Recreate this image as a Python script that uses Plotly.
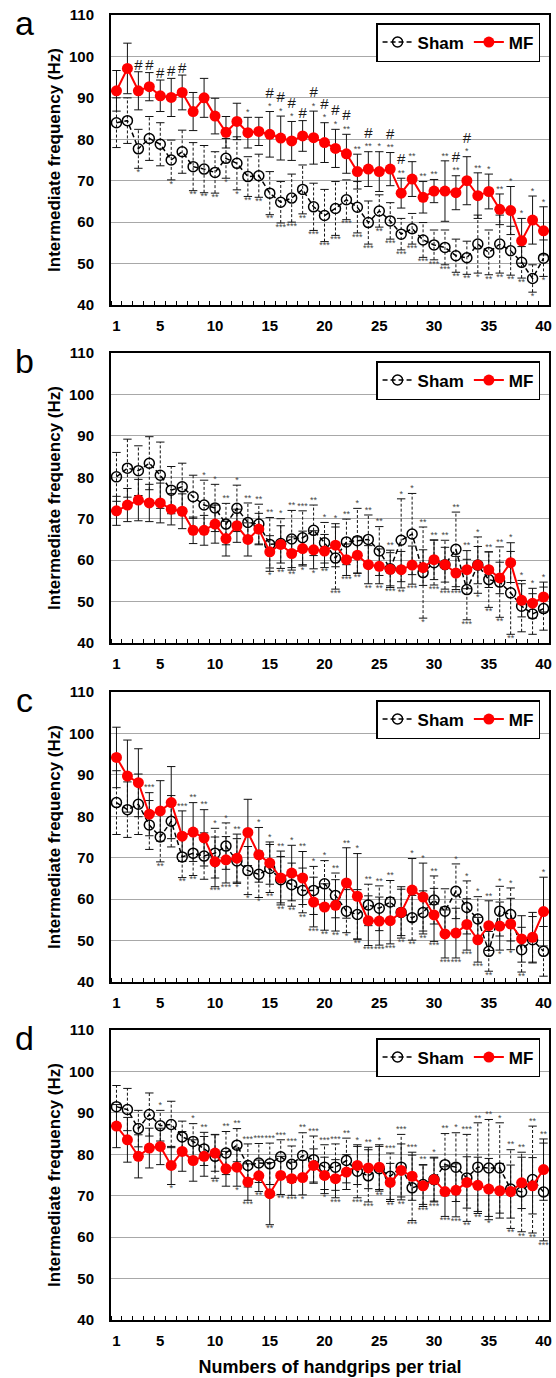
import plotly.graph_objects as go

# ---------------- data ----------------
x_vals = list(range(1, 41))
x_ticks = [1, 5, 10, 15, 20, 25, 30, 35, 40]
y_ticks = [40, 50, 60, 70, 80, 90, 100, 110]
panel_labels = ["a", "b", "c", "d"]
y_title = "Intermediate frequency (Hz)"
x_title = "Numbers of handgrips per trial"

a_sham = [84.0, 84.5, 77.7, 80.2, 78.8, 75.0, 77.0, 73.4, 72.8, 72.0,
          75.4, 74.2, 71.0, 71.2, 67.0, 64.8, 65.8, 67.9, 63.7, 61.6,
          63.3, 65.4, 63.6, 59.9, 62.7, 60.3, 57.1, 58.4, 55.7, 54.5,
          53.9, 51.9, 51.4, 54.7, 52.7, 54.7, 53.1, 50.3, 46.4, 51.3]
a_sham_err = [6.0, 5.5, 4.7, 5.3, 5.2, 4.8, 5.2, 5.8, 5.7, 5.0,
              4.8, 6.4, 4.8, 5.2, 5.2, 5.0, 5.8, 5.9, 5.7, 6.3,
              6.5, 4.8, 6.2, 5.2, 3.9, 4.4, 3.8, 3.7, 4.2, 3.6,
              4.2, 4.0, 4.0, 7.0, 5.4, 7.0, 5.9, 3.8, 3.3, 4.4]
a_mf = [91.7, 97.1, 91.7, 92.7, 90.5, 90.1, 91.3, 86.7, 90.0, 85.6,
        81.7, 84.3, 81.6, 81.9, 81.2, 80.3, 79.6, 80.8, 80.4, 79.2,
        77.8, 76.5, 72.2, 72.8, 72.2, 72.8, 67.0, 70.4, 66.0, 67.5,
        67.5, 67.1, 70.0, 66.4, 67.4, 63.1, 62.8, 55.5, 60.5, 57.9]
a_mf_err = [4.9, 6.1, 4.6, 3.4, 3.8, 4.6, 4.2, 4.6, 4.7, 4.3,
            3.8, 4.4, 3.7, 3.4, 5.5, 5.3, 4.7, 3.7, 6.4, 4.8,
            4.6, 4.7, 4.2, 4.2, 4.8, 4.0, 3.6, 4.2, 3.8, 2.8,
            7.3, 4.1, 5.8, 5.5, 4.2, 3.7, 5.8, 5.4, 5.8, 5.8]
a_top = ["", "", "", "", "", "", "", "", "", "",
         "", "", "*", "", "*", "*", "*", "", "*", "*",
         "*", "**", "**", "**", "*", "**", "**", "**", "**", "**",
         "**", "**", "*", "**", "*", "**", "*", "*", "*", "*"]
a_bot = ["", "", "*", "", "", "*", "", "**", "**", "**",
         "*", "*", "**", "**", "**", "***", "***", "**", "***", "***",
         "***", "***", "***", "***", "**", "***", "***", "***", "***", "***",
         "***", "**", "**", "*", "**", "**", "**", "**", "*", "*"]
a_hash = ["", "", "#", "#", "#", "#", "#", "", "", "",
          "", "", "", "", "#", "#", "#", "#", "#", "#",
          "#", "#", "", "#", "", "#", "#", "", "", "",
          "", "#", "#", "", "", "", "", "", "", ""]

b_sham = [80.1, 82.2, 81.6, 83.4, 80.5, 76.9, 77.7, 75.3, 73.3, 72.6,
          68.7, 72.5, 69.1, 68.7, 63.8, 64.0, 65.1, 65.4, 67.2, 64.2,
          60.5, 64.4, 64.7, 65.0, 62.2, 57.9, 64.8, 66.3, 57.0, 59.4,
          58.9, 62.6, 52.9, 58.8, 55.3, 54.7, 52.1, 48.9, 47.0, 48.3]
b_sham_err = [5.9, 7.0, 6.0, 6.4, 8.0, 5.7, 5.7, 5.2, 6.0, 5.7,
              5.0, 5.6, 4.7, 4.8, 6.5, 6.0, 6.9, 6.5, 6.1, 4.9,
              7.5, 5.5, 7.8, 5.9, 5.9, 4.5, 10.0, 9.8, 11.0, 5.4,
              5.9, 9.0, 7.3, 6.8, 6.7, 8.5, 10.0, 6.2, 4.9, 5.2]
b_mf = [71.9, 73.3, 74.5, 73.8, 73.8, 72.3, 71.8, 67.2, 67.2, 68.7,
        65.2, 68.3, 65.0, 67.5, 62.0, 63.8, 61.6, 62.8, 62.5, 62.2,
        63.6, 60.1, 61.2, 58.9, 58.5, 57.8, 57.7, 58.8, 58.2, 60.1,
        58.9, 56.9, 57.7, 58.8, 57.7, 55.7, 59.4, 50.3, 49.6, 51.1]
b_mf_err = [3.5, 4.0, 5.0, 4.5, 4.8, 3.8, 4.2, 3.2, 3.6, 4.6,
            4.2, 4.0, 4.0, 3.8, 3.9, 4.5, 4.0, 4.2, 4.6, 4.0,
            5.2, 3.8, 4.4, 4.6, 4.2, 4.0, 4.4, 4.6, 4.3, 4.8,
            4.2, 4.0, 4.6, 4.5, 4.3, 3.8, 4.8, 4.0, 3.6, 3.6]
b_top = ["", "", "", "", "", "", "", "", "*", "*",
         "**", "*", "**", "**", "**", "*", "**", "***", "**", "*",
         "*", "**", "*", "**", "**", "**", "*", "*", "**", "**",
         "**", "**", "**", "*", "**", "**", "*", "*", "*", "*"]
b_bot = ["", "", "", "", "", "", "", "", "", "",
         "", "", "", "", "*", "**", "**", "*", "*", "**",
         "***", "***", "**", "**", "**", "***", "**", "***", "*", "***",
         "***", "***", "***", "*", "**", "**", "**", "", "", ""]

c_sham = [83.3, 81.6, 82.9, 77.9, 75.0, 78.8, 70.2, 71.1, 70.4, 71.1,
          72.8, 69.2, 66.9, 66.0, 67.4, 64.7, 63.5, 62.1, 62.1, 63.7,
          60.9, 57.1, 56.3, 58.6, 57.8, 59.3, 56.8, 55.5, 56.8, 59.8,
          57.1, 61.9, 58.0, 55.2, 47.4, 57.1, 56.3, 47.8, 50.2, 47.4]
c_sham_err = [7.7, 6.7, 7.3, 5.9, 6.0, 6.2, 5.0, 5.4, 5.6, 6.0,
              5.6, 5.4, 5.8, 5.6, 5.8, 5.6, 5.2, 5.4, 5.8, 5.6,
              5.4, 5.2, 6.0, 5.0, 5.4, 5.2, 5.6, 5.4, 5.2, 5.8,
              5.4, 6.6, 6.4, 5.4, 4.8, 6.0, 6.4, 5.4, 5.6, 6.0]
c_mf = [94.2, 89.7, 88.1, 80.5, 81.3, 83.3, 75.2, 76.2, 74.8, 69.0,
        69.5, 69.9, 76.1, 70.7, 68.7, 65.1, 66.3, 65.1, 59.3, 58.1,
        58.5, 63.9, 60.7, 54.8, 54.7, 54.8, 56.8, 62.2, 60.5, 56.2,
        51.6, 51.8, 53.9, 50.2, 53.6, 53.5, 54.0, 50.4, 50.8, 57.0]
c_mf_err = [7.3, 8.7, 8.2, 5.2, 7.3, 8.7, 6.1, 7.1, 6.8, 6.0,
            5.6, 5.8, 8.0, 6.6, 5.1, 6.5, 6.7, 6.4, 6.0, 5.6,
            6.2, 8.5, 10.3, 6.0, 5.8, 5.6, 6.2, 7.6, 8.2, 6.4,
            5.8, 6.0, 6.2, 5.4, 6.0, 5.8, 6.2, 5.6, 6.0, 8.3]
c_top = ["", "", "", "***", "", "", "***", "**", "**", "*",
         "*", "**", "", "*", "*", "**", "*", "**", "*", "*",
         "**", "**", "*", "**", "**", "**", "", "*", "*", "**",
         "", "*", "*", "*", "**", "*", "*", "", "", "*"]
c_bot = ["", "", "", "", "**", "", "**", "**", "", "***",
         "***", "*", "*", "*", "**", "**", "**", "**", "***", "**",
         "**", "*", "**", "***", "***", "***", "**", "**", "**", "***",
         "***", "***", "***", "***", "**", "*", "*", "**", "", ""]

d_sham = [91.5, 90.8, 86.2, 89.6, 86.9, 87.2, 84.2, 83.1, 81.3, 79.5,
          80.3, 82.2, 77.3, 77.9, 77.7, 79.4, 77.6, 79.7, 78.7, 76.9,
          76.9, 78.5, 75.9, 74.8, 76.5, 74.7, 76.9, 71.9, 72.7, 73.9,
          77.5, 76.9, 74.3, 76.9, 76.7, 76.7, 71.6, 70.9, 73.9, 70.9]
d_sham_err = [5.1, 5.1, 4.4, 5.2, 3.7, 5.6, 3.8, 4.3, 4.0, 5.3,
              5.2, 4.0, 5.2, 4.7, 5.0, 4.1, 4.4, 5.5, 5.7, 5.4,
              5.6, 5.4, 6.4, 6.3, 5.4, 5.6, 7.9, 7.9, 4.8, 5.2,
              7.5, 8.3, 10.5, 10.7, 11.7, 10.9, 9.5, 9.6, 12.9, 11.8]
d_mf = [86.8, 83.5, 79.5, 81.5, 81.9, 77.3, 80.7, 78.5, 79.5, 80.3,
        76.5, 76.9, 73.3, 74.8, 70.5, 74.9, 74.1, 74.4, 77.3, 74.9,
        74.1, 75.7, 77.3, 76.7, 76.9, 73.2, 76.1, 74.7, 72.4, 73.9,
        71.0, 71.3, 73.2, 72.5, 71.6, 71.2, 71.0, 73.1, 72.4, 76.3]
d_mf_err = [5.2, 5.4, 5.2, 4.8, 4.4, 4.6, 4.8, 5.0, 4.8, 4.4,
            4.2, 4.6, 4.4, 3.8, 7.5, 4.6, 4.0, 4.2, 4.0, 4.4,
            4.6, 4.2, 4.6, 5.0, 5.4, 4.6, 6.4, 5.8, 5.0, 5.4,
            6.0, 6.4, 6.2, 6.8, 7.4, 6.6, 6.4, 6.2, 6.8, 7.4]
d_top = ["", "", "", "", "*", "", "", "*", "**", "",
         "**", "**", "***", "***", "***", "***", "***", "**", "***", "***",
         "***", "**", "*", "**", "*", "***", "***", "***", "**", "*",
         "**", "*", "***", "**", "**", "*", "**", "**", "**", "**"]
d_bot = ["", "", "", "", "", "*", "", "", "", "**",
         "", "*", "***", "**", "**", "**", "***", "*", "", "*",
         "***", "", "***", "***", "**", "**", "**", "***", "***", "***",
         "***", "***", "**", "**", "*", "", "**", "**", "**", "***"]

panels = [
    dict(sham=a_sham, sham_err=a_sham_err, mf=a_mf, mf_err=a_mf_err, top=a_top, bot=a_bot, hash=a_hash),
    dict(sham=b_sham, sham_err=b_sham_err, mf=b_mf, mf_err=b_mf_err, top=b_top, bot=b_bot, hash=None),
    dict(sham=c_sham, sham_err=c_sham_err, mf=c_mf, mf_err=c_mf_err, top=c_top, bot=c_bot, hash=None),
    dict(sham=d_sham, sham_err=d_sham_err, mf=d_mf, mf_err=d_mf_err, top=d_top, bot=d_bot, hash=None),
]

# ---------------- layout geometry ----------------
W, H = 556, 1378
ML, MR, MT, MB = 111, 4, 15, 58
plot_w = W - ML - MR
plot_h = H - MT - MB
tops_px = [15, 353, 692, 1030]
panel_px = 290
FONT = "Liberation Sans, Arial, sans-serif"
RED = "#ff0000"


def py(px):
    return min(1.0, max(0.0, 1 - (px - MT) / plot_h))


def px_x(px):
    return (px - ML) / plot_w


fig = go.Figure()
layout = {}

for k, p in enumerate(panels):
    n = k + 1
    xa = "x" if n == 1 else f"x{n}"
    ya = "y" if n == 1 else f"y{n}"
    leg = "legend" if n == 1 else f"legend{n}"

    # Sham error bars (dashed)
    ex, ey = [], []
    for xi, m, e in zip(x_vals, p["sham"], p["sham_err"]):
        ex += [xi, xi, None]
        ey += [m - e, m + e, None]
    fig.add_trace(go.Scatter(
        x=ex, y=ey, mode="lines+markers", xaxis=xa, yaxis=ya,
        line=dict(color="#111", width=1, dash="3px,2px"),
        marker=dict(symbol="line-ew", size=6, color="#111", line=dict(color="#111", width=1)),
        showlegend=False, hoverinfo="skip"))
    # MF error bars (solid)
    ex, ey = [], []
    for xi, m, e in zip(x_vals, p["mf"], p["mf_err"]):
        ex += [xi, xi, None]
        ey += [m - e, m + e, None]
    fig.add_trace(go.Scatter(
        x=ex, y=ey, mode="lines+markers", xaxis=xa, yaxis=ya,
        line=dict(color="#111", width=1),
        marker=dict(symbol="line-ew", size=6, color="#111", line=dict(color="#111", width=1)),
        showlegend=False, hoverinfo="skip"))

    # main series
    fig.add_trace(go.Scatter(
        x=x_vals, y=p["sham"], mode="lines+markers", name="Sham", xaxis=xa, yaxis=ya,
        line=dict(color="black", width=1.5, dash="5px,3px"),
        marker=dict(symbol="circle-open", size=10, color="black", line=dict(width=1.5, color="black")),
        legend=leg, showlegend=True))
    fig.add_trace(go.Scatter(
        x=x_vals, y=p["mf"], mode="lines+markers", name="MF", xaxis=xa, yaxis=ya,
        line=dict(color=RED, width=2),
        marker=dict(symbol="circle", size=11, color=RED),
        legend=leg, showlegend=True))

    # significance marks
    top_y = [max(s + se, m + me) for s, se, m, me in zip(p["sham"], p["sham_err"], p["mf"], p["mf_err"])]
    bot_y = [min(s - se, m - me) for s, se, m, me in zip(p["sham"], p["sham_err"], p["mf"], p["mf_err"])]
    top_text = []
    for i, t in enumerate(p["top"]):
        h = p["hash"][i] if p["hash"] else ""
        s = ""
        if h:
            s = "<span style='font-size:15px;color:#1a1a1a'>" + h + "</span>"
            if t:
                s += "<br>"
        s += t
        top_text.append(s)
    fig.add_trace(go.Scatter(
        x=x_vals, y=top_y, mode="text", text=top_text, textposition="top center",
        textfont=dict(size=9, color="#444", family=FONT), xaxis=xa, yaxis=ya,
        showlegend=False, hoverinfo="skip"))
    fig.add_trace(go.Scatter(
        x=x_vals, y=bot_y, mode="text", text=p["bot"], textposition="bottom center",
        textfont=dict(size=9, color="#444", family=FONT), xaxis=xa, yaxis=ya,
        showlegend=False, hoverinfo="skip"))

    top = tops_px[k]
    dom = [py(top + panel_px), py(top)]
    xkey = "xaxis" if n == 1 else f"xaxis{n}"
    ykey = "yaxis" if n == 1 else f"yaxis{n}"
    layout[xkey] = dict(
        domain=[0, 1], anchor=ya, range=[0.5, 40.5],
        tickmode="array", tickvals=x_ticks, ticktext=[str(v) for v in x_ticks],
        ticks="", showgrid=False, zeroline=False,
        showline=True, linecolor="black", linewidth=2, mirror=True,
        tickfont=dict(family=FONT, size=15, color="black", weight="bold"),
        ticklabelstandoff=6,
        minor=dict(tickmode="array", tickvals=[v + 0.5 for v in range(0, 41)],
                   ticks="inside", ticklen=4, tickwidth=1, tickcolor="black", showgrid=False),
    )
    layout[ykey] = dict(
        domain=dom, anchor=xa, range=[40, 110],
        tickmode="array", tickvals=y_ticks, ticks="",
        showgrid=True, gridcolor="#a8a8a8", gridwidth=1, zeroline=False,
        showline=True, linecolor="black", linewidth=2, mirror=True,
        tickfont=dict(family=FONT, size=15, color="black", weight="bold"),
        ticklabelstandoff=12,
        title=dict(text=y_title, font=dict(family=FONT, size=17, color="black", weight="bold"), standoff=4),
    )
    layout[leg] = dict(
        x=px_x(543), xanchor="right", y=py(top + 8), yanchor="top",
        orientation="h", bgcolor="white", bordercolor="black", borderwidth=1.5,
        font=dict(family=FONT, size=17, color="black", weight="bold"),
        itemwidth=30, tracegroupgap=0,
    )

layout["xaxis4"]["title"] = dict(text=x_title, font=dict(family=FONT, size=18, color="black", weight="bold"), standoff=12)

annotations = []
for k, lab in enumerate(panel_labels):
    annotations.append(dict(
        text=lab, xref="paper", yref="paper", x=px_x(24), y=py(tops_px[k] + 8),
        xanchor="center", yanchor="middle", showarrow=False,
        font=dict(family=FONT, size=34, color="black")))

fig.update_layout(
    width=W, height=H, margin=dict(l=ML, r=MR, t=MT, b=MB),
    paper_bgcolor="white", plot_bgcolor="white",
    annotations=annotations, **layout)

fig.write_html("out.html", config={"displayModeBar": False},
               post_script="document.body.style.margin='0';")
